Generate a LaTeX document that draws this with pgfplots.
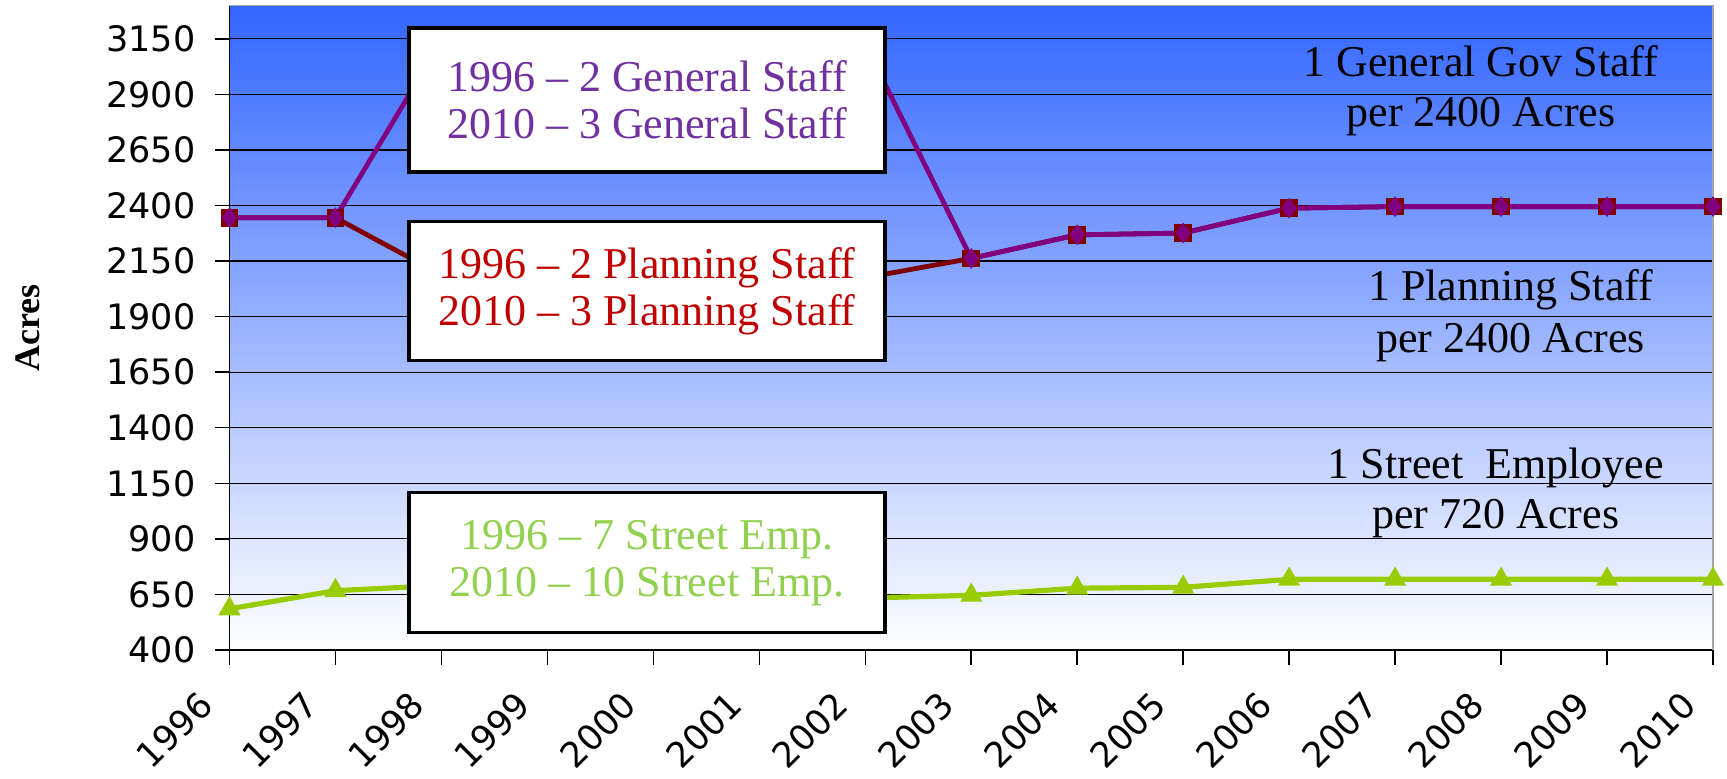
\documentclass[border=0pt]{standalone}
\usepackage{fontspec}
\usepackage{pgfplots}
\pgfplotsset{compat=1.18}
\newfontfamily\annfont{Liberation Serif}
\newfontfamily\tickfont{DejaVu Sans}
\definecolor{genline}{RGB}{128,0,128}
\definecolor{planline}{RGB}{128,0,0}
\definecolor{streetline}{RGB}{153,204,0}
\definecolor{gentext}{RGB}{112,48,160}
\definecolor{plantext}{RGB}{192,0,0}
\definecolor{streettext}{RGB}{146,208,80}
\definecolor{bgtop}{RGB}{51,102,255}

\pgfplotstableread{
year general planning street
1996 2345 2345 585
1997 2345 2345 667
1998 3140 2088 690
1999 3135 2085 680
2000 3130 2082 665
2001 3130 2078 650
2002 3125 2075 634
2003 2162 2162 646
2004 2268 2268 678
2005 2276 2276 682
2006 2388 2388 718
2007 2395 2395 718
2008 2395 2395 718
2009 2395 2395 718
2010 2395 2395 718
}\datatable

\begin{document}
\begin{tikzpicture}
\useasboundingbox (-114.75pt,-64.5pt) rectangle (748.75pt,325pt);
\begin{axis}[
  at={(0,0)}, anchor=south west,
  scale only axis, width=741.75pt, height=322.25pt,
  xmin=1996, xmax=2010, ymin=400, ymax=3300,
  clip=false,
  axis lines*=left,
  axis line style={black, line width=0.8pt},
  xtick={1996,1997,...,2010},
  ytick={400,650,...,3150},
  ymajorgrids,
  grid style={black, line width=0.6pt},
  tick align=outside,
  major tick length=7.5pt,
  tick style={black, line width=0.7pt},
  /pgf/number format/1000 sep={},
  /pgf/number format/assume math mode=true,
  ticklabel style={font=\tickfont\fontsize{17.5}{20}\selectfont, text=black},
  xticklabel style={xshift=-11pt, yshift=-16pt, rotate=45, anchor=east, inner sep=1pt},
  yticklabel style={xshift=-6pt},
  axis background/.style={top color=bgtop, bottom color=white},
  ylabel={\annfont\bfseries\fontsize{18}{20}\selectfont Acres},
  every axis y label/.style={at={(rel axis cs:0,0.5)}, xshift=-101pt, rotate=90, anchor=center},
]
\draw[gray!70, line width=0.7pt] (rel axis cs:0,1) -- (rel axis cs:1,1) -- (rel axis cs:1,0);

\addplot[planline, line width=2.4pt, mark=square*, mark size=3.2pt, mark options={solid, fill=planline}] table[x=year, y=planning] {\datatable};
\addplot[genline, line width=2.4pt, mark=diamond*, mark size=3.2pt, mark options={solid, fill=genline}] table[x=year, y=general] {\datatable};
\addplot[streetline, line width=2.6pt, mark=triangle*, mark size=3.8pt, mark options={solid, fill=streetline}] table[x=year, y=street] {\datatable};

\coordinate (b1) at (axis cs:1999.94,2875);
\coordinate (b2) at (axis cs:1999.94,2015);
\coordinate (b3) at (axis cs:1999.94,793);
\coordinate (t1) at (axis cs:2007.81,2917);
\coordinate (t2) at (axis cs:2008.09,1906);
\coordinate (t3) at (axis cs:2007.95,1107);
\end{axis}

\node[draw=black, line width=1.75pt, fill=white, minimum width=238pt, minimum height=72pt, align=center,
  font=\annfont\fontsize{22}{23.5}\selectfont, text=gentext] at (b1) {1996 – 2 General Staff\\2010 – 3 General Staff};
\node[draw=black, line width=1.75pt, fill=white, minimum width=238pt, minimum height=69.5pt, align=center,
  font=\annfont\fontsize{22}{23.5}\selectfont, text=plantext] at (b2) {1996 – 2 Planning Staff\\2010 – 3 Planning Staff};
\node[draw=black, line width=1.75pt, fill=white, minimum width=238pt, minimum height=70pt, align=center,
  font=\annfont\fontsize{22}{23.5}\selectfont, text=streettext] at (b3) {1996 – 7 Street Emp.\\2010 – 10 Street Emp.};

\node[align=center, font=\annfont\fontsize{22}{25}\selectfont, text=black] at (t1) {1 General Gov Staff\\per 2400 Acres};
\node[align=center, font=\annfont\fontsize{22}{26}\selectfont, text=black] at (t2) {1 Planning Staff\\per 2400 Acres};
\node[align=center, font=\annfont\fontsize{22}{25}\selectfont, text=black] at (t3) {1 Street~~Employee\\per 720 Acres};
\end{tikzpicture}
\end{document}
